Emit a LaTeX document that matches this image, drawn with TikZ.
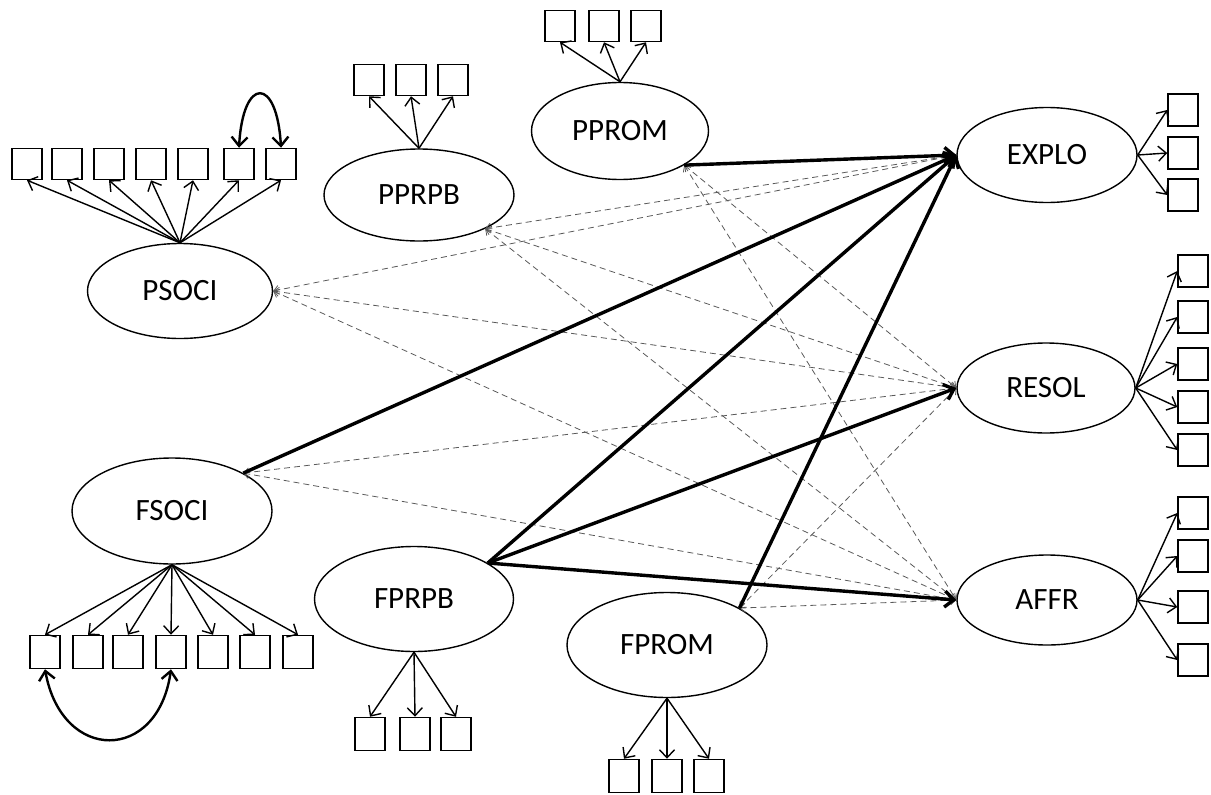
\documentclass[tikz,border=0pt]{standalone}
\usepackage{fontspec}
\setmainfont{Carlito}
\usetikzlibrary{shapes.geometric,arrows.meta}
\begin{document}
\begin{tikzpicture}[x=1pt,y=-1pt,
  lat/.style={draw,ellipse,line width=1.4pt,inner sep=0pt,font=\fontsize{31}{31}\selectfont},
  ind/.style={draw,rectangle,line width=1.5pt,minimum width=30pt,minimum height=31pt,inner sep=0pt},
  load/.style={line width=1.4pt,-{Straight Barb[length=8pt,width=15pt]}},
  cov/.style={line width=2.4pt,{Straight Barb[length=9pt,width=16pt]}-{Straight Barb[length=9pt,width=16pt]}},
  sig/.style={line width=3.4pt,-{Straight Barb[length=9pt,width=16pt]}},
  ns/.style={line width=0.8pt,draw=black!65,dash pattern=on 6pt off 4pt,{Straight Barb[length=5pt,width=9pt]}-{Straight Barb[length=5pt,width=9pt]}}
]
\useasboundingbox (0,0) rectangle (1211,795);

% latent variables
\node[lat,minimum width=185pt,minimum height=95pt] (psoci) at (180,291) {PSOCI};
\node[lat,minimum width=190pt,minimum height=92pt] (pprpb) at (419,195) {PPRPB};
\node[lat,minimum width=177pt,minimum height=97pt] (pprom) at (620,131) {PPROM};
\node[lat,minimum width=180pt,minimum height=95pt] (explo) at (1047,155) {EXPLO};
\node[lat,minimum width=178pt,minimum height=90pt] (resol) at (1046,388) {RESOL};
\node[lat,minimum width=180pt,minimum height=90pt] (affr) at (1047,600) {AFFR};
\node[lat,minimum width=200pt,minimum height=106pt] (fsoci) at (172,511) {FSOCI};
\node[lat,minimum width=199pt,minimum height=105pt] (fprpb) at (414,599) {FPRPB};
\node[lat,minimum width=200pt,minimum height=105pt] (fprom) at (667,645) {FPROM};

% indicators
\foreach \i/\x in {1/27,2/67,3/109,4/151,5/193,6/239,7/281} {
  \node[ind] (ps\i) at (\x,164) {};
  \draw[load] (psoci.north) -- (ps\i.south);
}
\foreach \i/\x in {1/369,2/411,3/453} {
  \node[ind] (pp\i) at (\x,80) {};
  \draw[load] (pprpb.north) -- (pp\i.south);
}
\foreach \i/\x in {1/560,2/604,3/646} {
  \node[ind] (pm\i) at (\x,26) {};
  \draw[load] (pprom.north) -- (pm\i.south);
}
\foreach \i/\y in {1/110,2/153,3/195} {
  \node[ind,minimum height=32pt] (ex\i) at (1183,\y) {};
  \draw[load] (explo.east) -- (ex\i.west);
}
\foreach \i/\y in {1/271,2/317,3/364,4/407,5/450} {
  \node[ind,minimum height=32pt] (rs\i) at (1193,\y) {};
  \draw[load] (resol.east) -- (rs\i.west);
}
\foreach \i/\y in {1/513,2/556,3/607,4/660} {
  \node[ind,minimum height=32pt] (af\i) at (1193,\y) {};
  \draw[load] (affr.east) -- (af\i.west);
}
\foreach \i/\x in {1/45,2/88,3/128,4/171,5/213,6/255,7/298} {
  \node[ind,minimum height=33pt] (fs\i) at (\x,652) {};
  \draw[load] (fsoci.south) -- (fs\i.north);
}
\foreach \i/\x in {1/370,2/415,3/456} {
  \node[ind,minimum height=33pt] (fp\i) at (\x,734) {};
  \draw[load] (fprpb.south) -- (fp\i.north);
}
\foreach \i/\x in {1/624,2/667,3/709} {
  \node[ind,minimum height=33pt] (fm\i) at (\x,776) {};
  \draw[load] (fprom.south) -- (fm\i.north);
}

% correlated errors
\draw[cov] (ps6.north) .. controls (243,76) and (277,76) .. (ps7.north);
\draw[cov] (fs1.south) .. controls (62,763) and (158,763) .. (fs4.south);

% non-significant paths
\foreach \t in {explo,resol,affr} {
  \draw[ns] (psoci.east) -- (\t.west);
  \draw[ns] (pprpb.-27) -- (\t.west);
}
\foreach \t in {resol,affr} {
  \draw[ns] (pprom.-28) -- (\t.west);
  \draw[ns] (fsoci.28) -- (\t.west);
  \draw[ns] (fprom.27) -- (\t.west);
}

% significant paths
\draw[sig] (pprom.-28) -- (explo.west);
\draw[sig] (fsoci.28) -- (explo.west);
\draw[sig] (fprom.27) -- (explo.west);
\draw[sig] (fprpb.26) -- (explo.west);
\draw[sig] (fprpb.26) -- (resol.west);
\draw[sig] (fprpb.26) -- (affr.west);
\end{tikzpicture}
\end{document}
